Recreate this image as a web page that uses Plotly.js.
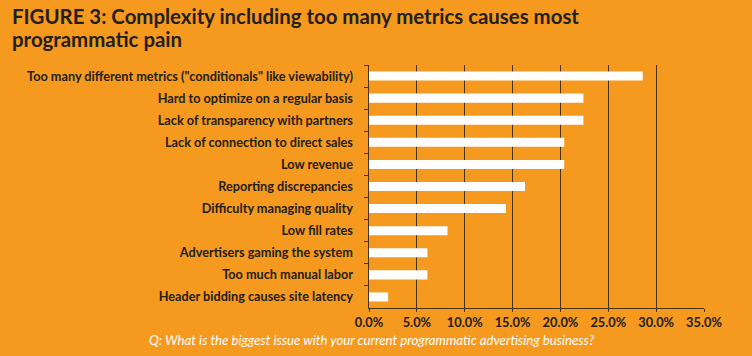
<!DOCTYPE html>
<html><head><meta charset="utf-8">
<script src="https://cdn.plot.ly/plotly-3.0.1.min.js"></script>
<style>html,body{margin:0;padding:0;background:#F6991F;}#chart{width:752px;height:356px;}</style>
</head><body><div id="chart"></div>
<script>
const categories = [
  'Too many different metrics ("conditionals" like viewability)',
  'Hard to optimize on a regular basis',
  'Lack of transparency with partners',
  'Lack of connection to direct sales',
  'Low revenue',
  'Reporting discrepancies',
  'Difficulty managing quality',
  'Low fill rates',
  'Advertisers gaming the system',
  'Too much manual labor',
  'Header bidding causes site latency'
];
const values = [28.6, 22.4, 22.4, 20.4, 20.4, 16.3, 14.3, 8.2, 6.1, 6.1, 2.0];
const xTicks = [0, 5, 10, 15, 20, 25, 30, 35];
const titleLines = ['FIGURE 3: Complexity including too many metrics causes most', 'programmatic pain'];
const captionText = 'Q: What is the biggest issue with your current programmatic advertising business?';

const bg = '#F6991F';
const dark = '#222018';
const font = 'Lato, "Open Sans", sans-serif';
const L = 369, R = 48, T = 65, B = 48, W = 752, H = 356;
const pw = W - L - R, ph = H - T - B;
const titleTops = [2, 25];

const titleAnns = titleLines.map((t, i) => ({
  text: t, xref: 'paper', yref: 'paper',
  x: (10 - L) / pw, y: (H - B - titleTops[i]) / ph, xanchor: 'left', yanchor: 'top', align: 'left',
  showarrow: false,
  font: {family: font, size: 20.4, color: dark, weight: 'bold'}
}));

Plotly.newPlot('chart', [{
  type: 'bar', orientation: 'h',
  x: values, y: categories,
  marker: {color: '#FFFFFF', line: {width: 0}},
  hoverinfo: 'none'
}], {
  width: W, height: H,
  paper_bgcolor: bg, plot_bgcolor: bg,
  margin: {l: L, r: R, t: T, b: B},
  bargap: 0.59,
  showlegend: false,
  xaxis: {
    range: [0, 35], tickvals: xTicks, ticktext: xTicks.map(v => v.toFixed(1) + '%'),
    showgrid: true, gridcolor: '#4a3410', gridwidth: 1,
    showline: true, linecolor: '#4a3410', linewidth: 1,
    ticks: 'outside', ticklen: 3, tickcolor: '#4a3410',
    zeroline: false, fixedrange: true,
    tickfont: {family: font, size: 12.8, color: dark, weight: 'bold'}
  },
  yaxis: {
    type: 'category', autorange: 'reversed',
    showgrid: false, showline: true, linecolor: '#4a3410', linewidth: 1.5,
    ticks: 'outside', ticklen: 4, tickcolor: '#4a3410', tickson: 'boundaries',
    ticklabelstandoff: 12,
    tickfont: {family: font, size: 12.7, color: dark, weight: 'bold'}
  },
  annotations: titleAnns.concat([{
    text: captionText, xref: 'paper', yref: 'paper',
    x: (372 - L) / pw, y: (H - B - 340) / ph, xanchor: 'center', yanchor: 'middle', showarrow: false,
    font: {family: font, size: 13.2, color: '#FFFFFF', style: 'italic'}
  }])
}, {staticPlot: true});
</script></body></html>
